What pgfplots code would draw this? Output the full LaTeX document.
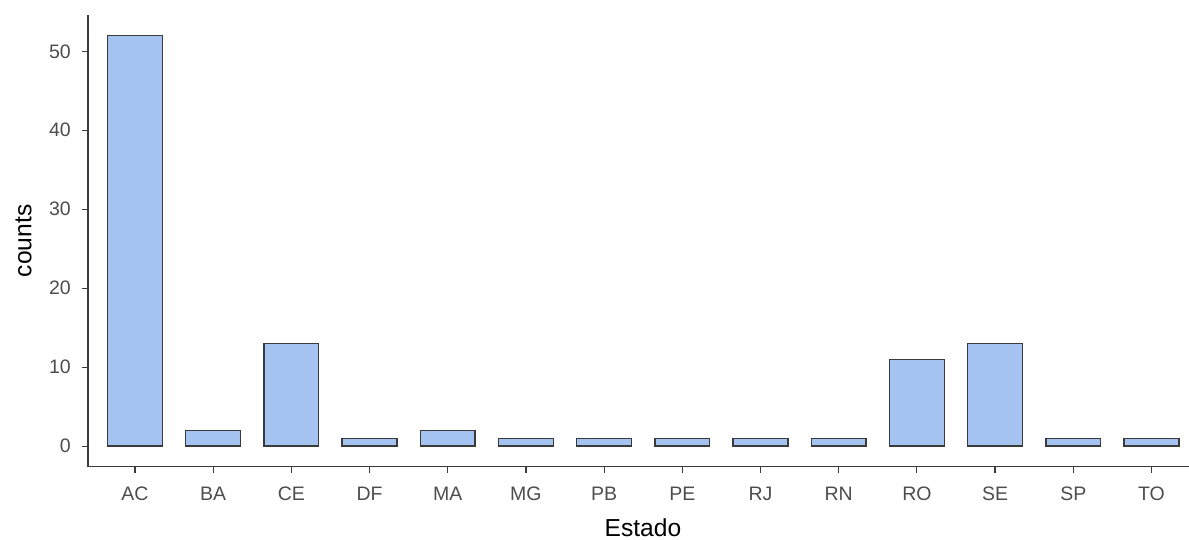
\documentclass[border=0pt]{standalone}
\usepackage{fontspec}
\setmainfont{Liberation Sans}
\usepackage{pgfplots}
\pgfplotsset{compat=1.18}
\definecolor{barfill}{RGB}{164,195,240}
\definecolor{edge}{RGB}{58,58,58}
\definecolor{ticktxt}{RGB}{77,77,77}
\begin{document}
\begin{tikzpicture}
\useasboundingbox (0,0) rectangle (1189pt,540pt);
\begin{axis}[
  at={(88pt,73.3pt)}, anchor=south west,
  scale only axis, width=1101pt, height=451.7pt,
  xmin=-0.6, xmax=13.48, ymin=-2.6, ymax=54.6,
  axis x line*=bottom, axis y line*=left,
  axis line style={edge, line width=1.2pt, -},
  tick style={edge, line width=1.2pt},
  tick align=outside, major tick length=6pt,
  xtick={0,...,13},
  xticklabels={AC,BA,CE,DF,MA,MG,PB,PE,RJ,RN,RO,SE,SP,TO},
  ytick={0,10,20,30,40,50},
  /pgf/number format/assume math mode=true,
  tick label style={font=\fontsize{19.5}{20}\selectfont, text=ticktxt, inner sep=0pt},
  yticklabel style={anchor=east, xshift=-11pt},
  xticklabel style={anchor=base, yshift=-28pt},
  xlabel={Estado}, ylabel={counts},
  label style={font=\fontsize{24.6}{26}\selectfont, text=black, inner sep=0pt},
  xlabel style={at={(axis description cs:0.504,-0.1535)}, anchor=base},
  ylabel style={at={(axis description cs:-0.0586,0.5)}, anchor=center},
  ybar, bar width=0.7,
  clip=false,
]
\addplot[fill=barfill, draw=edge, line width=1.4pt] coordinates {
(0,52) (1,2) (2,13) (3,1) (4,2) (5,1) (6,1) (7,1) (8,1) (9,1) (10,11) (11,13) (12,1) (13,1)
};
\end{axis}
\end{tikzpicture}
\end{document}
